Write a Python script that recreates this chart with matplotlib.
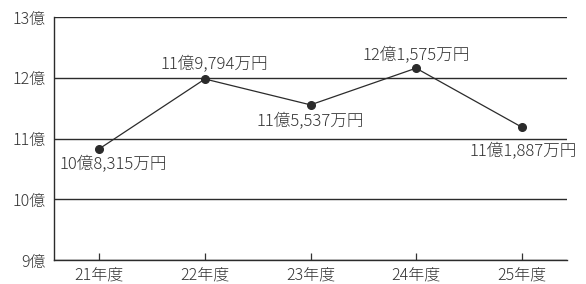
import matplotlib
matplotlib.use("Agg")
import matplotlib.pyplot as plt

plt.rcParams['font.family'] = ['Noto Sans CJK JP', 'DejaVu Sans']

# Data (units: 億円)
years = ['21年度', '22年度', '23年度', '24年度', '25年度']
values = [10.8315, 11.9794, 11.5537, 12.1575, 11.1887]
labels = ['10億8,315万円', '11億9,794万円', '11億5,537万円', '12億1,575万円', '11億1,887万円']
yticks = [9, 10, 11, 12, 13]
ytick_labels = ['9億', '10億', '11億', '12億', '13億']

# label offsets in points (dx, dy)
offsets = [(10, -11.5), (7, 10.5), (0, -12), (0, 9), (1, -18)]

ink = '#2b2b2b'
txt = '#333333'

fig = plt.figure(figsize=(5.86, 2.84), dpi=100)
ax = fig.add_axes([54 / 586, 24 / 284, (567 - 54) / 586, (260 - 17) / 284])

x = list(range(len(years)))
ax.plot(x, values, color=ink, lw=0.9, marker='o', ms=5.5, mfc=ink, mec=ink)

for xi, v, lab, (dx, dy) in zip(x, values, labels, offsets):
    ax.annotate(lab, (xi, v), xytext=(dx, dy), textcoords='offset points',
                ha='center', va='center', fontsize=12, color=txt,
                fontweight='light')

ax.set_xlim(-0.43, 4.43)
ax.set_ylim(9, 13)
ax.set_yticks(yticks)
ax.set_yticklabels(ytick_labels)
ax.set_xticks(x)
ax.set_xticklabels(years)
ax.yaxis.grid(True, color=ink, lw=1.0)
ax.set_axisbelow(True)

for s in ['top', 'right']:
    ax.spines[s].set_visible(False)
for s in ['left', 'bottom']:
    ax.spines[s].set_color(ink)
    ax.spines[s].set_linewidth(1.0)

ax.tick_params(axis='y', length=0, pad=6, labelsize=11.5, colors=txt)
ax.tick_params(axis='x', direction='in', length=5, width=0.9, pad=5,
               labelsize=11.5, colors=txt)
for t in ax.get_xticklabels() + ax.get_yticklabels():
    t.set_fontweight('light')

fig.savefig('out.png', dpi=100)
